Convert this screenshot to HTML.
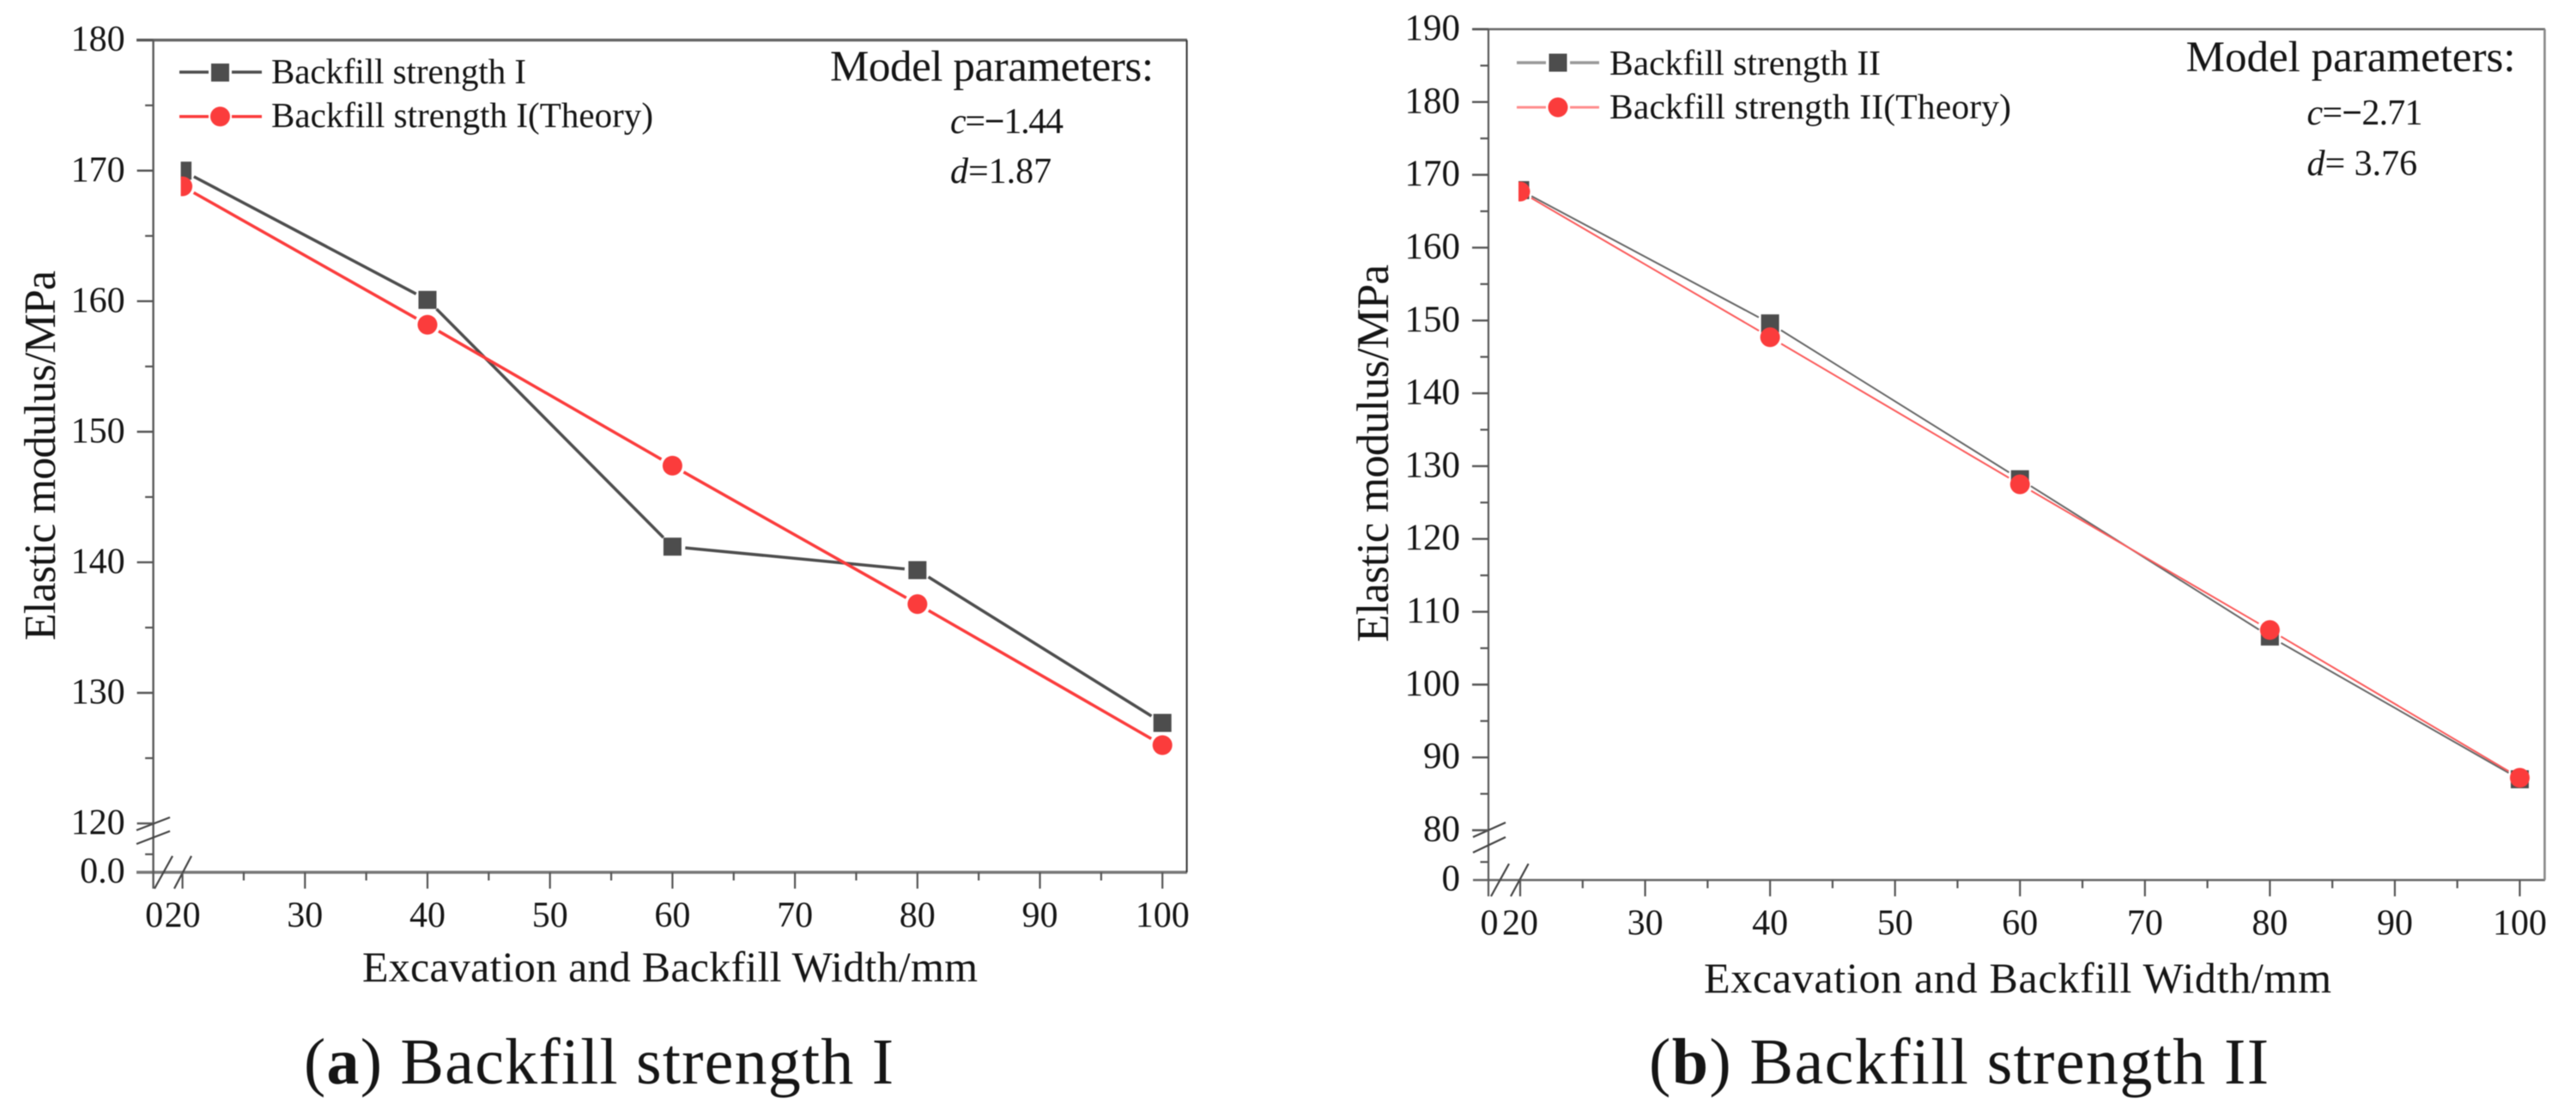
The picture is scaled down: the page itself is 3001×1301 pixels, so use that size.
<!DOCTYPE html>
<html lang="en">
<head>
<meta charset="utf-8">
<title>Elastic modulus versus excavation and backfill width</title>
<style>
html,body{margin:0;padding:0;background:#fff;}
svg{display:block;filter:blur(0.5px);}
text{font-family:"Liberation Serif","Times New Roman",serif;fill:#151515;}
</style>
</head>
<body>
<svg id="figure" xmlns="http://www.w3.org/2000/svg" width="3001" height="1301" viewBox="0 0 3001 1301">
  <rect x="0" y="0" width="3001" height="1301" fill="#fff"/>

  <g id="panel-a">
    <g stroke="#5a5a5a" fill="none">
      <line x1="159" y1="46.7" x2="1383" y2="46.7" stroke-width="3.4" stroke="#666"/>
      <line x1="159" y1="1016" x2="1383" y2="1016" stroke-width="3.4" stroke="#777"/>
      <line x1="178.6" y1="46.7" x2="178.6" y2="1035" stroke-width="2.4"/>
      <line x1="1382.6" y1="46.7" x2="1382.6" y2="1016" stroke-width="2" stroke="#333"/>
      <line x1="159" y1="967" x2="198" y2="952" stroke-width="2.2" stroke="#444"/>
      <line x1="159" y1="983" x2="198" y2="968" stroke-width="2.2" stroke="#444"/>
      <line x1="180" y1="1035" x2="201" y2="997" stroke-width="2.2" stroke="#444"/>
      <line x1="203" y1="1035" x2="223" y2="997" stroke-width="2.2" stroke="#444"/>
    </g>
    <text transform="translate(64 746) rotate(-90)" font-size="52" textLength="431" lengthAdjust="spacing">Elastic modulus/MPa</text>
    <text x="422" y="1143" font-size="50" textLength="717" lengthAdjust="spacing">Excavation and Backfill Width/mm</text>
    <g>
      <line x1="209" y1="84" x2="243" y2="84" stroke="#4d4d4d" stroke-width="3.5"/>
      <line x1="270" y1="84" x2="305" y2="84" stroke="#4d4d4d" stroke-width="3.5"/>
      <rect x="246" y="74" width="21" height="21" fill="#4d4d4d"/>
      <text x="316" y="97" font-size="41" textLength="297" lengthAdjust="spacing">Backfill strength I</text>
      <line x1="209" y1="135.7" x2="243" y2="135.7" stroke="#fb3c3c" stroke-width="3.5"/>
      <line x1="270" y1="135.7" x2="305" y2="135.7" stroke="#fb3c3c" stroke-width="3.5"/>
      <circle cx="256.5" cy="135.7" r="11.5" fill="#fb3c3c"/>
      <text x="316" y="148" font-size="41" textLength="445" lengthAdjust="spacing">Backfill strength I(Theory)</text>
    </g>
    <g>
      <text x="967" y="94" font-size="51" textLength="377" lengthAdjust="spacing">Model parameters:</text>
      <text x="1107" y="155" font-size="42" textLength="132" lengthAdjust="spacing"><tspan font-style="italic">c</tspan>=<tspan font-weight="bold">−</tspan>1.44</text>
      <text x="1107" y="213" font-size="42"><tspan font-style="italic">d</tspan>=1.87</text>
    </g>
    <text x="354" y="1262" font-size="76" textLength="687" lengthAdjust="spacing">(<tspan font-weight="bold">a</tspan>) Backfill strength I</text>
  </g>

  <g id="panel-b">
    <g stroke="#5a5a5a" fill="none">
      <line x1="1716" y1="34" x2="2965" y2="34" stroke-width="2.4" stroke="#666"/>
      <line x1="1716" y1="1025" x2="2965" y2="1025" stroke-width="2.4" stroke="#666"/>
      <line x1="1734" y1="34" x2="1734" y2="1044" stroke-width="2.2"/>
      <line x1="2964.5" y1="34" x2="2964.5" y2="1025" stroke-width="2.6" stroke="#888"/>
      <line x1="1716" y1="975" x2="1754" y2="958" stroke-width="2.2" stroke="#444"/>
      <line x1="1716" y1="993" x2="1754" y2="975" stroke-width="2.2" stroke="#444"/>
      <line x1="1737" y1="1044" x2="1758" y2="1006" stroke-width="2.2" stroke="#444"/>
      <line x1="1760" y1="1044" x2="1780.6" y2="1006" stroke-width="2.2" stroke="#444"/>
    </g>
    <text transform="translate(1617 748) rotate(-90)" font-size="53" textLength="440" lengthAdjust="spacing">Elastic modulus/MPa</text>
    <text x="1985" y="1156" font-size="50" textLength="731" lengthAdjust="spacing">Excavation and Backfill Width/mm</text>
    <g>
      <line x1="1767" y1="73" x2="1801" y2="73" stroke="#999" stroke-width="3.5"/>
      <line x1="1829" y1="73" x2="1863" y2="73" stroke="#999" stroke-width="3.5"/>
      <rect x="1804.5" y="62.5" width="21" height="21" fill="#4d4d4d"/>
      <text x="1875" y="87" font-size="41.5" textLength="316" lengthAdjust="spacing">Backfill strength II</text>
      <line x1="1767" y1="125" x2="1801" y2="125" stroke="#ff8d8d" stroke-width="3"/>
      <line x1="1829" y1="125" x2="1863" y2="125" stroke="#ff8d8d" stroke-width="3"/>
      <circle cx="1815" cy="125" r="11.5" fill="#fb3c3c"/>
      <text x="1875" y="138" font-size="41.5" textLength="468" lengthAdjust="spacing">Backfill strength II(Theory)</text>
    </g>
    <g>
      <text x="2546.6" y="83" font-size="51" textLength="384" lengthAdjust="spacing">Model parameters:</text>
      <text x="2687.5" y="145" font-size="42" textLength="135" lengthAdjust="spacing"><tspan font-style="italic">c</tspan>=<tspan font-weight="bold">−</tspan>2.71</text>
      <text x="2687.5" y="204" font-size="42"><tspan font-style="italic">d</tspan>= 3.76</text>
    </g>
    <text x="1921" y="1262" font-size="76" textLength="722" lengthAdjust="spacing">(<tspan font-weight="bold">b</tspan>) Backfill strength II</text>
  </g>
</svg>

<script>
// Shared x data (excavation and backfill width, mm)
const widths = [20, 40, 60, 80, 100];
const xMajorTicks = [20, 30, 40, 50, 60, 70, 80, 90, 100];
const xMinorTicks = [25, 35, 45, 55, 65, 75, 85, 95];

// Panel (a) values, MPa
const strengthOneMeasured = [170.0, 160.1, 141.2, 139.4, 127.7];
const strengthOneTheory = [168.8, 158.2, 147.4, 136.8, 126.0];
const panelAYMajorTicks = [120, 130, 140, 150, 160, 170, 180];
const panelAYMinorTicks = [125, 135, 145, 155, 165, 175];

// Panel (b) values, MPa
const strengthTwoMeasured = [167.9, 149.6, 128.2, 106.6, 87.0];
const strengthTwoTheory = [167.7, 147.7, 127.5, 107.5, 87.2];
const panelBYMajorTicks = [80, 90, 100, 110, 120, 130, 140, 150, 160, 170, 180, 190];
const panelBYMinorTicks = [85, 95, 105, 115, 125, 135, 145, 155, 165, 175, 185];

const SVG_NS = 'http://www.w3.org/2000/svg';

function makeEl(parent, tag, name, attrs) {
  const el = document.createElementNS(SVG_NS, tag);
  
  
  for (const key in attrs) {
    el.setAttribute(key, attrs[key]);
  }
  parent.appendChild(el);
  return el;
}

function linearScale(d0, d1, r0, r1) {
  return function (v) {
    return r0 + (v - d0) * (r1 - r0) / (d1 - d0);
  };
}

function drawTrimmedLine(parent, name, xs, ys, trim, stroke, width) {
  for (let i = 0; i < xs.length - 1; i++) {
    const dx = xs[i + 1] - xs[i];
    const dy = ys[i + 1] - ys[i];
    const len = Math.sqrt(dx * dx + dy * dy);
    const ux = dx / len;
    const uy = dy / len;
    makeEl(parent, 'line', name + '-segment-' + (i + 1), {
      x1: xs[i] + ux * trim,
      y1: ys[i] + uy * trim,
      x2: xs[i + 1] - ux * trim,
      y2: ys[i + 1] - uy * trim,
      stroke: stroke,
      'stroke-width': width
    });
  }
}

function drawPanel(p, measured, theory, yMajor, yMinor) {
  const root = document.getElementById(p.id);
  const x = linearScale(20, 100, p.x20, p.x100);
  const y = linearScale(p.yLow, p.yHigh, p.yLowPx, p.yHighPx);
  const ticks = makeEl(root, 'g', 'ticks-' + p.suffix, { stroke: '#555', fill: 'none' });
  const labels = makeEl(root, 'g', 'tick-labels-' + p.suffix, {});

  yMajor.forEach(function (v) {
    makeEl(ticks, 'line', 'y-tick-' + v + '-' + p.suffix, {
      x1: p.axisX - 19, x2: p.axisX, y1: y(v), y2: y(v), 'stroke-width': 2.4
    });
    const t = makeEl(labels, 'text', 'y-tick-label-' + v + '-' + p.suffix, {
      x: p.axisX - 33, y: y(v) + 12.5, 'font-size': p.yFont, 'text-anchor': 'end'
    });
    t.textContent = String(v);
  });
  yMinor.forEach(function (v) {
    makeEl(ticks, 'line', 'y-minor-tick-' + v + '-' + p.suffix, {
      x1: p.axisX - 9.5, x2: p.axisX, y1: y(v), y2: y(v), 'stroke-width': 2.2
    });
  });
  makeEl(ticks, 'line', 'y-minor-tick-below-break-' + p.suffix, {
    x1: p.axisX - 9.5, x2: p.axisX, y1: p.belowBreakY, y2: p.belowBreakY, 'stroke-width': 2.2
  });
  const zeroY = makeEl(labels, 'text', 'y-tick-label-zero-' + p.suffix, {
    x: p.axisX - 33, y: p.baseY + 12, 'font-size': p.yFont, 'text-anchor': 'end'
  });
  zeroY.textContent = p.zeroLabel;

  xMajorTicks.forEach(function (v) {
    makeEl(ticks, 'line', 'x-tick-' + v + '-' + p.suffix, {
      x1: x(v), x2: x(v), y1: p.baseY, y2: p.baseY + 19, 'stroke-width': 2.2
    });
    const t = makeEl(labels, 'text', 'x-tick-label-' + v + '-' + p.suffix, {
      x: x(v), y: p.baseY + 63.5, 'font-size': 42, 'text-anchor': 'middle'
    });
    t.textContent = String(v);
  });
  xMinorTicks.forEach(function (v) {
    makeEl(ticks, 'line', 'x-minor-tick-' + v + '-' + p.suffix, {
      x1: x(v), x2: x(v), y1: p.baseY, y2: p.baseY + 9.5, 'stroke-width': 2.2
    });
  });
  const zeroX = makeEl(labels, 'text', 'x-tick-label-zero-' + p.suffix, {
    x: p.axisX + 1, y: p.baseY + 63.5, 'font-size': 42, 'text-anchor': 'middle'
  });
  zeroX.textContent = '0';

  const clipId = 'plot-clip-' + p.suffix;
  const defs = makeEl(root, 'defs', 'clip-defs-' + p.suffix, {});
  const clip = makeEl(defs, 'clipPath', clipId, { id: clipId });
  makeEl(clip, 'rect', 'clip-rect-' + p.suffix, {
    x: x(20) - 2, y: y(p.yHigh), width: p.plotRight - x(20) + 2, height: p.baseY - y(p.yHigh)
  });

  const seriesGroup = makeEl(root, 'g', 'series-' + p.suffix, {});
  const xs = widths.map(x);
  const measuredYs = measured.map(y);
  const theoryYs = theory.map(y);

  drawTrimmedLine(seriesGroup, 'measured-line-' + p.suffix, xs, measuredYs, 15, p.measuredStroke, p.lineWidth);
  drawTrimmedLine(seriesGroup, 'theory-line-' + p.suffix, xs, theoryYs, 15, p.theoryStroke, p.lineWidth);

  const markers = makeEl(seriesGroup, 'g', 'markers-' + p.suffix, { 'clip-path': 'url(#' + clipId + ')' });
  widths.forEach(function (w, i) {
    makeEl(markers, 'rect', 'measured-point-' + w + '-' + p.suffix, {
      x: xs[i] - 10.5, y: measuredYs[i] - 10.5, width: 21, height: 21, fill: '#4d4d4d'
    });
  });
  widths.forEach(function (w, i) {
    makeEl(markers, 'circle', 'theory-point-' + w + '-' + p.suffix, {
      cx: xs[i], cy: theoryYs[i], r: 11.5, fill: '#fb3c3c'
    });
  });
}

drawPanel({
  id: 'panel-a', suffix: 'a', axisX: 178.6, plotRight: 1383, baseY: 1016, belowBreakY: 995,
  x20: 212.6, x100: 1354.2, yLow: 130, yHigh: 180, yLowPx: 807, yHighPx: 46.7,
  yFont: 42, zeroLabel: '0.0', measuredStroke: '#4d4d4d', theoryStroke: '#fb3c3c', lineWidth: 3.5
}, strengthOneMeasured, strengthOneTheory, panelAYMajorTicks, panelAYMinorTicks);

drawPanel({
  id: 'panel-b', suffix: 'b', axisX: 1734, plotRight: 2965, baseY: 1025, belowBreakY: 1004,
  x20: 1771, x100: 2935.5, yLow: 80, yHigh: 190, yLowPx: 967, yHighPx: 34,
  yFont: 43, zeroLabel: '0', measuredStroke: '#666666', theoryStroke: '#fb5a5a', lineWidth: 2
}, strengthTwoMeasured, strengthTwoTheory, panelBYMajorTicks, panelBYMinorTicks);
</script>
</body>
</html>
